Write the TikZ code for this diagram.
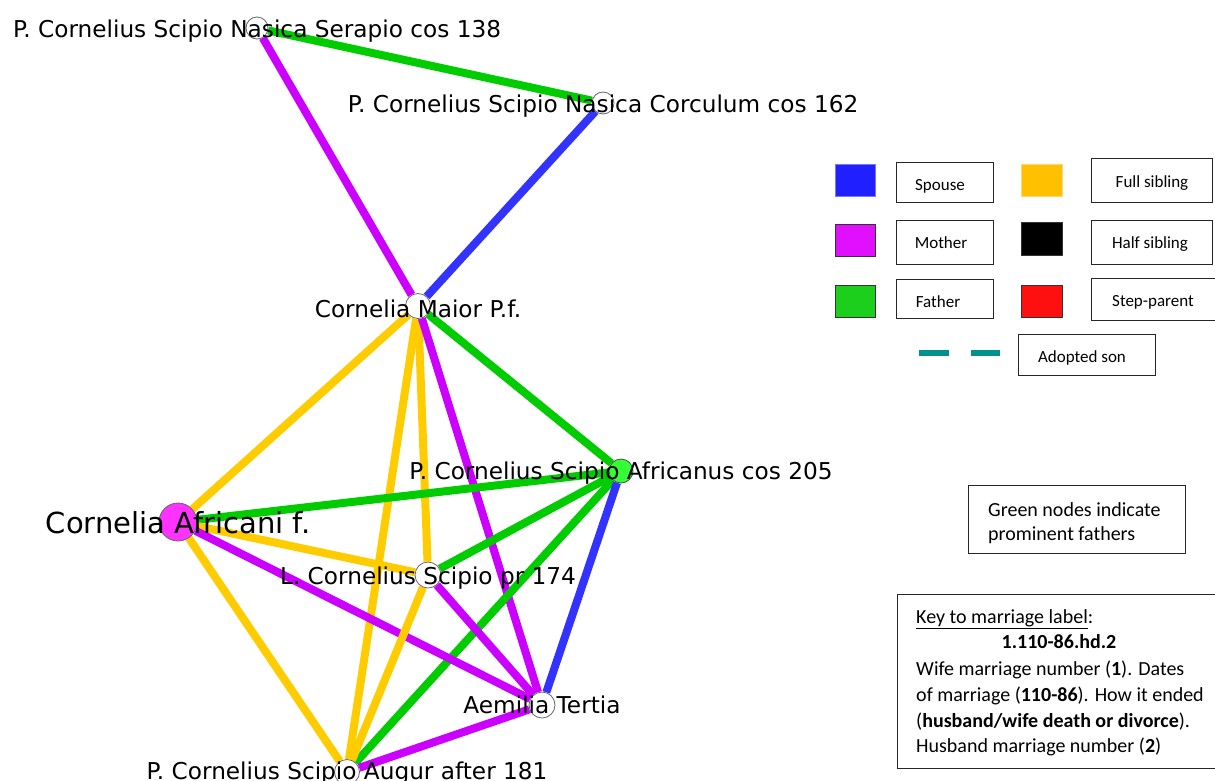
\documentclass[tikz,border=0pt]{standalone}
\usepackage{fontspec}
\setmainfont{Carlito}
\newfontfamily\netfont{DejaVu Sans}
\pgfdeclarelayer{edges}
\pgfsetlayers{edges,main}
\definecolor{spouseC}{HTML}{3333FF}
\definecolor{motherC}{HTML}{CC00FF}
\definecolor{fatherC}{HTML}{00CC00}
\definecolor{fullC}{HTML}{FFCC00}
\definecolor{adoptC}{HTML}{009090}
\begin{document}
\begin{tikzpicture}[x=1pt,y=-1pt,
  person/.style={circle,draw=black!60,line width=0.8pt,fill=white,inner sep=0pt,minimum size=25pt},
  pname/.style={font=\netfont\fontsize{23.2}{27}\selectfont,anchor=base,inner sep=0pt},
  rel/.style={line width=8pt},
  spouse/.style={rel,draw=spouseC},
  mother/.style={rel,draw=motherC},
  father/.style={rel,draw=fatherC},
  fullsib/.style={rel,draw=fullC},
  swatch/.style={draw=black!80,line width=0.9pt,minimum width=40pt,minimum height=32pt,inner sep=0pt},
  legbox/.style={draw=black!85,line width=0.9pt,inner sep=0pt},
  legtext/.style={font=\fontsize{17}{20}\selectfont,anchor=base,inner sep=0pt},
  keytext/.style={font=\fontsize{20}{24}\selectfont,anchor=base west,inner sep=0pt}]
\useasboundingbox (0,0) rectangle (1215,780);

% people
\node[person,minimum size=22pt] (serapio) at (257,28) {};
\node[person,minimum size=22pt] (corculum) at (603,103) {};
\node[person] (maior) at (418,306) {};
\node[person,fill=green!80!white,minimum size=24pt,draw=black!70] (africanus) at (621,471) {};
\node[person,fill={rgb,255:red,255;green,51;blue,255},minimum size=38pt] (africanif) at (178,522) {};
\node[person,minimum size=26pt] (lucius) at (428,575) {};
\node[person,minimum size=26pt] (aemilia) at (542,705) {};
\node[person] (augur) at (347,772) {};

% relations
\begin{pgfonlayer}{edges}
\draw[father] (serapio) -- (corculum);
\draw[mother] (serapio) -- (maior);
\draw[spouse] (corculum) -- (maior);
\draw[father] (maior) -- (africanus);
\draw[fullsib] (maior) -- (africanif);
\draw[fullsib] (maior) -- (lucius);
\draw[fullsib] (maior) -- (augur);
\draw[mother] (maior) -- (aemilia);
\draw[father] (africanus) -- (africanif);
\draw[father] (africanus) -- (lucius);
\draw[father] (africanus) -- (augur);
\draw[spouse] (africanus) -- (aemilia);
\draw[fullsib] (africanif) -- (lucius);
\draw[fullsib] (africanif) -- (augur);
\draw[mother] (africanif) -- (aemilia);
\draw[fullsib] (lucius) -- (augur);
\draw[mother] (lucius) -- (aemilia);
\draw[mother] (aemilia) -- (augur);
\end{pgfonlayer}

% names
\node[pname] (serapioL) at ([yshift=-9pt]serapio.center) {P. Cornelius Scipio Nasica Serapio cos 138};
\node[pname] (corculumL) at ([yshift=-9pt]corculum.center) {P. Cornelius Scipio Nasica Corculum cos 162};
\node[pname] (maiorL) at ([yshift=-11pt]maior.center) {Cornelia Maior P.f.};
\node[pname] (africanusL) at ([yshift=-8pt]africanus.center) {P. Cornelius Scipio Africanus cos 205};
\node[pname,font=\netfont\fontsize{29}{33}\selectfont] (africanifL) at ([yshift=-11pt]africanif.center) {Cornelia Africani f.};
\node[pname] (luciusL) at ([yshift=-9pt]lucius.center) {L. Cornelius Scipio pr 174};
\node[pname] (aemiliaL) at ([yshift=-8pt]aemilia.center) {Aemilia Tertia};
\node[pname] (augurL) at ([yshift=-7pt]augur.center) {P. Cornelius Scipio Augur after 181};

% legend
\node[swatch,fill={rgb,255:red,31;green,31;blue,255},draw={rgb,255:red,120;green,120;blue,255}] (sqspouse) at (855,180) {};
\node[legbox,minimum width=97pt,minimum height=40pt] (bxspouse) at (944.5,182) {};
\node[legtext] (txspouse) at (940,190) {Spouse};
\node[swatch,fill={rgb,255:red,255;green,192;blue,0},draw={rgb,255:red,255;green,215;blue,120},minimum width=41pt] (sqfull) at (1041.5,180) {};
\node[legbox,minimum width=121pt,minimum height=44pt] (bxfull) at (1151.5,180) {};
\node[legtext] (txfull) at (1152,187) {Full sibling};

\node[swatch,fill={rgb,255:red,224;green,16;blue,255}] (sqmother) at (855,240) {};
\node[legbox,minimum width=97pt,minimum height=44pt] (bxmother) at (944.5,242) {};
\node[legtext] (txmother) at (941,248) {Mother};
\node[swatch,fill=black,minimum width=41pt,minimum height=33pt] (sqhalf) at (1041.5,238.5) {};
\node[legbox,minimum width=121pt,minimum height=44pt] (bxhalf) at (1151.5,242) {};
\node[legtext] (txhalf) at (1150,248) {Half sibling};

\node[swatch,fill={rgb,255:red,28;green,207;blue,28}] (sqfather) at (855,301) {};
\node[legbox,minimum width=97pt,minimum height=39pt] (bxfather) at (944.5,298.5) {};
\node[legtext] (txfather) at (938,307) {Father};
\node[swatch,fill={rgb,255:red,255;green,16;blue,16},minimum width=41pt] (sqstep) at (1041.5,301) {};
\node[legbox,minimum width=127pt,minimum height=42pt] (bxstep) at (1154.5,299) {};
\node[legtext] (txstep) at (1153,306) {Step-parent};

\coordinate (dashA1) at (919,353);
\coordinate (dashA2) at (949,353);
\coordinate (dashB1) at (971,353);
\coordinate (dashB2) at (1000,353);
\draw[adoptC,line width=6pt] (dashA1) -- (dashA2);
\draw[adoptC,line width=6pt] (dashB1) -- (dashB2);
\node[legbox,minimum width=137pt,minimum height=41pt] (bxadopt) at (1086.5,354.5) {};
\node[legtext] (txadopt) at (1082,362) {Adopted son};

% note on node colours
\node[legbox,minimum width=217pt,minimum height=68pt] (bxgreen) at (1076.5,519) {};
\node[keytext] (green1) at (988,516) {Green nodes indicate};
\node[keytext] (green2) at (988,540) {prominent fathers};

% key to the marriage label
\node[legbox,minimum width=328pt,minimum height=174pt] (bxkey) at (1061,681) {};
\node[keytext] (key1) at (916,623) {\underline{Key to marriage label}:};
\node[keytext,anchor=base] (key2) at (1059,648) {\textbf{1.110-86.hd.2}};
\node[keytext] (key3) at (916,675) {Wife marriage number (\textbf{1}). Dates};
\node[keytext] (key4) at (916,701) {of marriage (\textbf{110-86}). How it ended};
\node[keytext] (key5) at (916,727) {(\textbf{husband/wife death or divorce}).};
\node[keytext] (key6) at (916,752) {Husband marriage number (\textbf{2})};
\end{tikzpicture}
\end{document}
